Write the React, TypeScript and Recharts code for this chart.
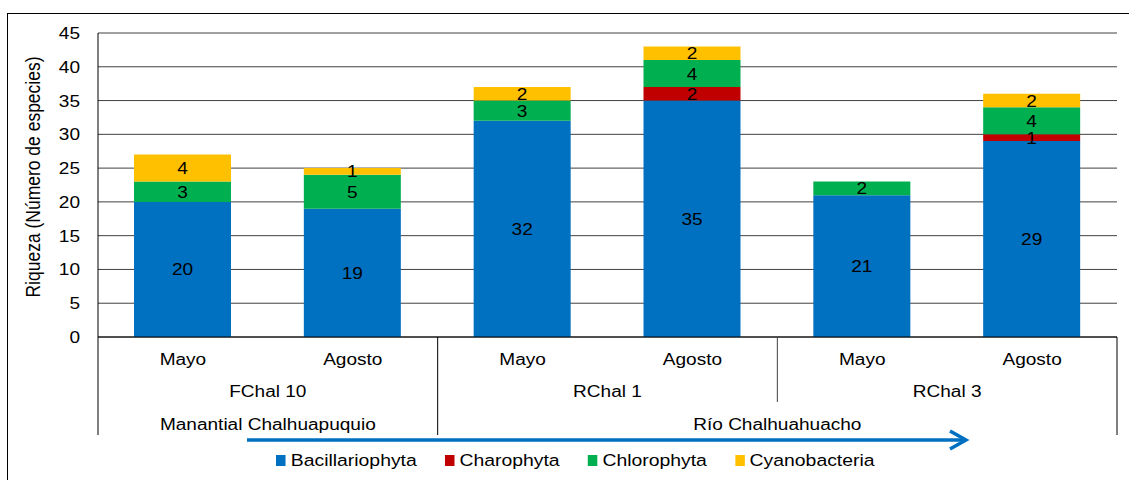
import { Bar, BarChart, CartesianGrid, LabelList, Legend, XAxis, YAxis } from 'recharts'

const months = ['Mayo', 'Agosto', 'Mayo', 'Agosto', 'Mayo', 'Agosto']
const sites = ['FChal 10', 'FChal 10', 'RChal 1', 'RChal 1', 'RChal 3', 'RChal 3']
const regions = [
  'Manantial Chalhuapuquio',
  'Manantial Chalhuapuquio',
  'Río Chalhuahuacho',
  'Río Chalhuahuacho',
  'Río Chalhuahuacho',
  'Río Chalhuahuacho',
]

const bacillariophyta = [20, 19, 32, 35, 21, 29]
const charophyta = [0, 0, 0, 2, 0, 1]
const chlorophyta = [3, 5, 3, 4, 2, 4]
const cyanobacteria = [4, 1, 2, 2, 0, 2]

const yTicks = [0, 5, 10, 15, 20, 25, 30, 35, 40, 45]

const series = [
  { key: 'Bacillariophyta', color: '#0070C0' },
  { key: 'Charophyta', color: '#C00000' },
  { key: 'Chlorophyta', color: '#00B050' },
  { key: 'Cyanobacteria', color: '#FFC000' },
]

const data = months.map((month, i) => ({
  month,
  site: sites[i],
  region: regions[i],
  Bacillariophyta: bacillariophyta[i],
  Charophyta: charophyta[i],
  Chlorophyta: chlorophyta[i],
  Cyanobacteria: cyanobacteria[i],
}))

const WIDTH = 1129
const HEIGHT = 480
const MARGIN = { top: 33, right: 12, left: 0, bottom: 0 }
const Y_AXIS_WIDTH = 98
const X_AXIS_HEIGHT = 143
const PLOT_WIDTH = WIDTH - MARGIN.left - MARGIN.right - Y_AXIS_WIDTH
const BAND = PLOT_WIDTH / months.length

const FONT = '"Liberation Sans", Arial, sans-serif'
// the text in this chart is set wide, like Arial stretched sideways
const STRETCH = 1.19

// row offsets below the category axis line
const MONTH_ROW = 28
const SITE_ROW = 60
const REGION_ROW = 93
const SITE_LINE_END = 65
const REGION_LINE_END = 98

type StretchTextProps = {
  x: number
  y: number
  anchor?: 'start' | 'middle' | 'end'
  size?: number
  children: React.ReactNode
}

function StretchText({ x, y, anchor = 'middle', size = 16, children }: StretchTextProps) {
  return (
    <text
      transform={`translate(${x}, ${y}) scale(${STRETCH}, 1)`}
      textAnchor={anchor}
      fontSize={size}
      fontFamily={FONT}
      fill="#000"
    >
      {children}
    </text>
  )
}

function groupStart(list: string[], i: number) {
  let s = i
  while (s > 0 && list[s - 1] === list[i]) s--
  return s
}

function MultiLevelTick(props: any) {
  const { x, y, payload } = props
  const i: number = payload.index
  const lastOf = (list: string[]) => i === list.length - 1 || list[i + 1] !== list[i]
  const right = x + BAND / 2

  return (
    <g>
      <StretchText x={x} y={y + MONTH_ROW}>
        {months[i]}
      </StretchText>
      {i === 0 && <line x1={x - BAND / 2} x2={x - BAND / 2} y1={y} y2={y + REGION_LINE_END} stroke="#000" />}
      {lastOf(sites) && (
        <StretchText x={x - ((i - groupStart(sites, i)) * BAND) / 2} y={y + SITE_ROW}>
          {sites[i]}
        </StretchText>
      )}
      {lastOf(regions) && (
        <StretchText x={x - ((i - groupStart(regions, i)) * BAND) / 2} y={y + REGION_ROW}>
          {regions[i]}
        </StretchText>
      )}
      {lastOf(sites) && (
        <line
          x1={right}
          x2={right}
          y1={y}
          y2={y + (lastOf(regions) ? REGION_LINE_END : SITE_LINE_END)}
          stroke={lastOf(regions) ? '#000' : '#404040'}
        />
      )}
    </g>
  )
}

function ValueTick(props: any) {
  const { x, y, payload } = props
  return (
    <StretchText x={x} y={y + 6} anchor="end">
      {payload.value}
    </StretchText>
  )
}

function AxisTitle(props: any) {
  const { viewBox } = props
  const bx = 40
  const cy = viewBox.y + viewBox.height / 2 - 8
  return (
    <text
      transform={`translate(${bx}, ${cy}) rotate(-90) scale(1, ${STRETCH})`}
      textAnchor="middle"
      fontSize={17.5}
      fontFamily={FONT}
      fill="#000"
    >
      Riqueza (Número de especies)
    </text>
  )
}

function SegmentLabel(props: any) {
  const { x, y, width, height, value } = props
  if (!value) return null
  return (
    <StretchText x={x + width / 2} y={y + height / 2 + 6}>
      {value}
    </StretchText>
  )
}

function LegendContent() {
  return (
    <div
      style={{
        display: 'flex',
        gap: 28 / STRETCH,
        fontFamily: FONT,
        fontSize: 16.3,
        color: '#000',
        transform: `scaleX(${STRETCH})`,
        transformOrigin: 'left center',
      }}
    >
      {series.map((s) => (
        <div key={s.key} style={{ display: 'flex', alignItems: 'center', whiteSpace: 'nowrap' }}>
          <span
            style={{
              width: 10 / STRETCH,
              height: 11,
              background: s.color,
              marginRight: 4,
              display: 'inline-block',
            }}
          />
          {s.key}
        </div>
      ))}
    </div>
  )
}

export default function App() {
  return (
    <div
      style={{
        position: 'absolute',
        left: 0,
        top: 0,
        width: WIDTH,
        height: HEIGHT,
        overflow: 'hidden',
        background: '#fff',
      }}
    >
      <div
        style={{
          position: 'absolute',
          left: 7,
          top: 13,
          width: 1200,
          height: 600,
          border: '1px solid #000',
        }}
      />
      <BarChart
        width={WIDTH}
        height={HEIGHT}
        data={data}
        margin={MARGIN}
        barSize={97}
        style={{ position: 'absolute', left: 0, top: 0 }}
      >
        <CartesianGrid vertical={false} stroke="#404040" />
        <XAxis
          dataKey="month"
          height={X_AXIS_HEIGHT}
          axisLine={{ stroke: '#000' }}
          tickLine={false}
          tickSize={0}
          tickMargin={0}
          interval={0}
          tick={<MultiLevelTick />}
        />
        <YAxis
          width={Y_AXIS_WIDTH}
          domain={[0, 45]}
          ticks={yTicks}
          axisLine={{ stroke: '#000' }}
          tickLine={false}
          tickSize={0}
          tickMargin={18}
          tick={<ValueTick />}
          label={<AxisTitle />}
        />
        <YAxis
          yAxisId="frame"
          orientation="right"
          width={0}
          domain={[0, 45]}
          tick={false}
          tickLine={false}
          axisLine={{ stroke: '#000' }}
        />
        <Legend
          verticalAlign="middle"
          align="center"
          layout="horizontal"
          wrapperStyle={{ top: 451, left: 276, width: 'auto' }}
          content={<LegendContent />}
        />
        {series.map((s) => (
          <Bar key={s.key} dataKey={s.key} stackId="a" fill={s.color} isAnimationActive={false}>
            <LabelList dataKey={s.key} content={<SegmentLabel />} />
          </Bar>
        ))}
      </BarChart>
      <svg
        width={WIDTH}
        height={HEIGHT}
        style={{ position: 'absolute', left: 0, top: 0, pointerEvents: 'none' }}
      >
        <line x1={247} x2={964} y1={440} y2={440} stroke="#0070C0" strokeWidth={3.5} />
        <polyline
          points="950,431 966,440 950,449"
          fill="none"
          stroke="#0070C0"
          strokeWidth={3.5}
        />
      </svg>
    </div>
  )
}
